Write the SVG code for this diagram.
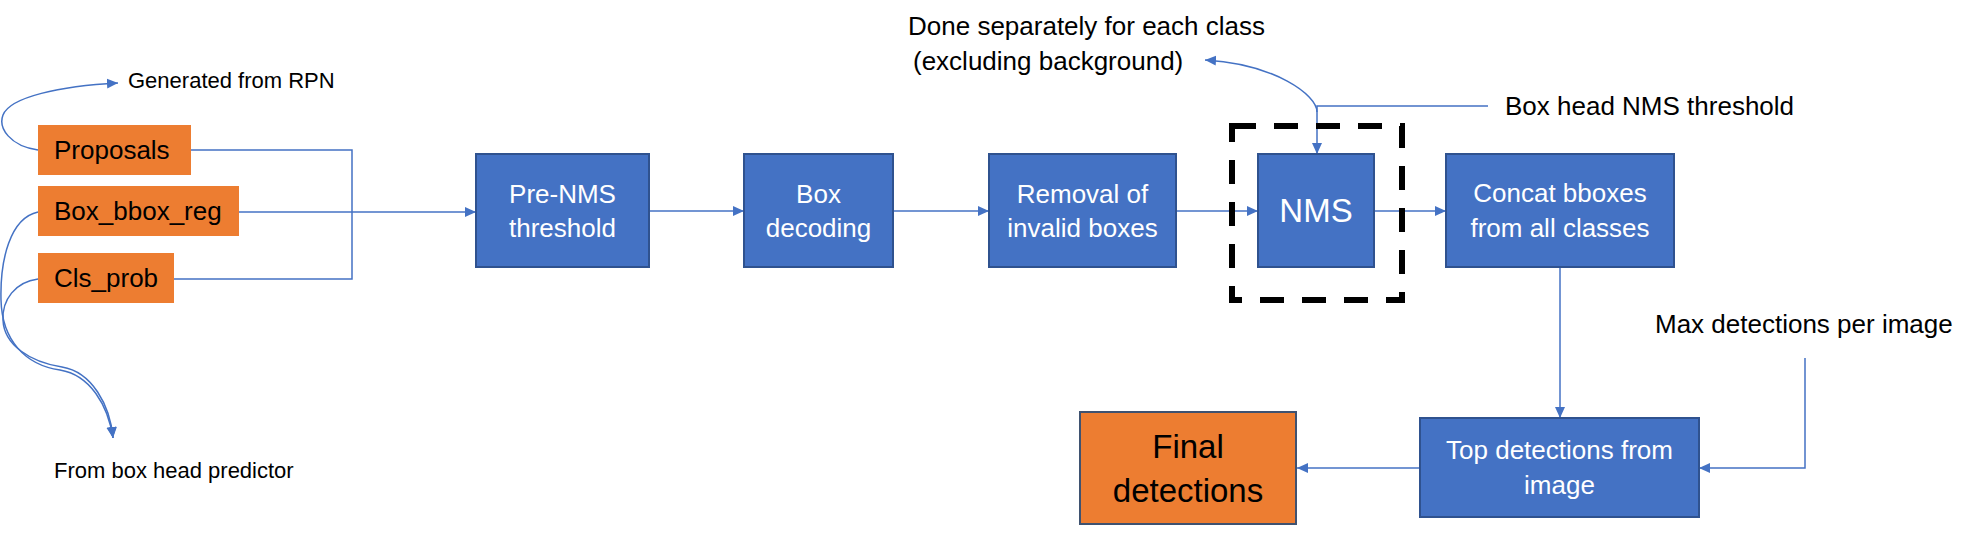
<svg xmlns="http://www.w3.org/2000/svg" width="1981" height="536" viewBox="0 0 1981 536">
<style>
  .bg{fill:#FFFFFF}
  .blue{fill:#4472C4;stroke:#2F528F;stroke-width:2}
  .orange{fill:#ED7D31}
  .final{fill:#ED7D31;stroke:#3F5270;stroke-width:2}
  .wt{font-family:"Liberation Sans",Arial,sans-serif;font-size:26px;fill:#FFFFFF;text-anchor:middle}
  .bt{font-family:"Liberation Sans",Arial,sans-serif;font-size:26px;fill:#000000}
  .st{font-family:"Liberation Sans",Arial,sans-serif;font-size:22px;fill:#000000}
  .big{font-size:33px}
  .conn{fill:none;stroke:#4472C4;stroke-width:1.5}
  .dash{fill:none;stroke:#000000;stroke-width:6;stroke-dasharray:24 18}
</style>
<defs>
  <marker id="arr" markerUnits="userSpaceOnUse" markerWidth="12" markerHeight="12" refX="11" refY="6" orient="auto">
    <path d="M0,1 L11,6 L0,11 z" fill="#4472C4"/>
  </marker>
</defs>
<rect class="bg" x="0" y="0" width="1981" height="536"/>

<g id="connectors">
  <path class="conn" d="M191,150 H352 V279 H174"/>
  <path class="conn" d="M239,212 H476" marker-end="url(#arr)"/>
  <path class="conn" d="M649,211 H744" marker-end="url(#arr)"/>
  <path class="conn" d="M893,211 H989" marker-end="url(#arr)"/>
  <path class="conn" d="M1176,211 H1258" marker-end="url(#arr)"/>
  <path class="conn" d="M1374,211 H1446" marker-end="url(#arr)"/>
  <path class="conn" d="M1560,267 V418" marker-end="url(#arr)"/>
  <path class="conn" d="M1805,358 V468 H1699" marker-end="url(#arr)"/>
  <path class="conn" d="M1420,468 H1297" marker-end="url(#arr)"/>
  <path class="conn" d="M1488,106 H1317 V154" marker-end="url(#arr)"/>
  <path class="conn" d="M1317,112 C1317,95 1275,64 1205,60" marker-end="url(#arr)"/>
  <path class="conn" d="M38,150 C10,146 -2,128 3,115 C10,97 60,86 118,83" marker-end="url(#arr)"/>
  <path class="conn" d="M38,212 C10,218 0,260 1,300 C2,340 25,365 60,370 C90,375 108,405 113,438" marker-end="url(#arr)"/>
  <path class="conn" d="M38,279 C15,282 2,300 3,320 C4,345 30,362 62,367 C92,372 110,405 113,438" marker-end="url(#arr)"/>
</g>

<g id="label-rpn"><text class="st" x="128" y="88">Generated from RPN</text></g>
<g id="label-predictor"><text class="st" x="54" y="478">From box head predictor</text></g>
<g id="label-separately">
  <text class="bt" x="908" y="35">Done separately for each class</text>
  <text class="bt" x="913" y="70">(excluding background)</text>
</g>
<g id="label-nms-threshold"><text class="bt" x="1505" y="115">Box head NMS threshold</text></g>
<g id="label-max-det"><text class="bt" x="1655" y="333">Max detections per image</text></g>

<g id="proposals">
  <rect class="orange" x="38" y="125" width="153" height="50"/>
  <text class="bt" x="54" y="159">Proposals</text>
</g>
<g id="box-bbox-reg">
  <rect class="orange" x="38" y="186" width="201" height="50"/>
  <text class="bt" x="54" y="220">Box_bbox_reg</text>
</g>
<g id="cls-prob">
  <rect class="orange" x="38" y="253" width="136" height="50"/>
  <text class="bt" x="54" y="287">Cls_prob</text>
</g>

<g id="pre-nms">
  <rect class="blue" x="476" y="154" width="173" height="113"/>
  <text class="wt" x="562.5" y="203">Pre-NMS</text>
  <text class="wt" x="562.5" y="237">threshold</text>
</g>
<g id="box-decoding">
  <rect class="blue" x="744" y="154" width="149" height="113"/>
  <text class="wt" x="818.5" y="203">Box</text>
  <text class="wt" x="818.5" y="237">decoding</text>
</g>
<g id="removal">
  <rect class="blue" x="989" y="154" width="187" height="113"/>
  <text class="wt" x="1082.5" y="203">Removal of</text>
  <text class="wt" x="1082.5" y="237">invalid boxes</text>
</g>
<g id="nms-group">
  <rect class="dash" x="1232" y="126" width="170" height="174"/>
</g>
<g id="nms">
  <rect class="blue" x="1258" y="154" width="116" height="113"/>
  <text class="wt big" x="1316" y="222">NMS</text>
</g>
<g id="concat">
  <rect class="blue" x="1446" y="154" width="228" height="113"/>
  <text class="wt" x="1560" y="202">Concat bboxes</text>
  <text class="wt" x="1560" y="237">from all classes</text>
</g>
<g id="top-detections">
  <rect class="blue" x="1420" y="418" width="279" height="99"/>
  <text class="wt" x="1559.5" y="459">Top detections from</text>
  <text class="wt" x="1559.5" y="494">image</text>
</g>
<g id="final-detections">
  <rect class="final" x="1080" y="412" width="216" height="112"/>
  <text class="bt big" x="1188" y="458" text-anchor="middle">Final</text>
  <text class="bt big" x="1188" y="502" text-anchor="middle">detections</text>
</g>
</svg>
